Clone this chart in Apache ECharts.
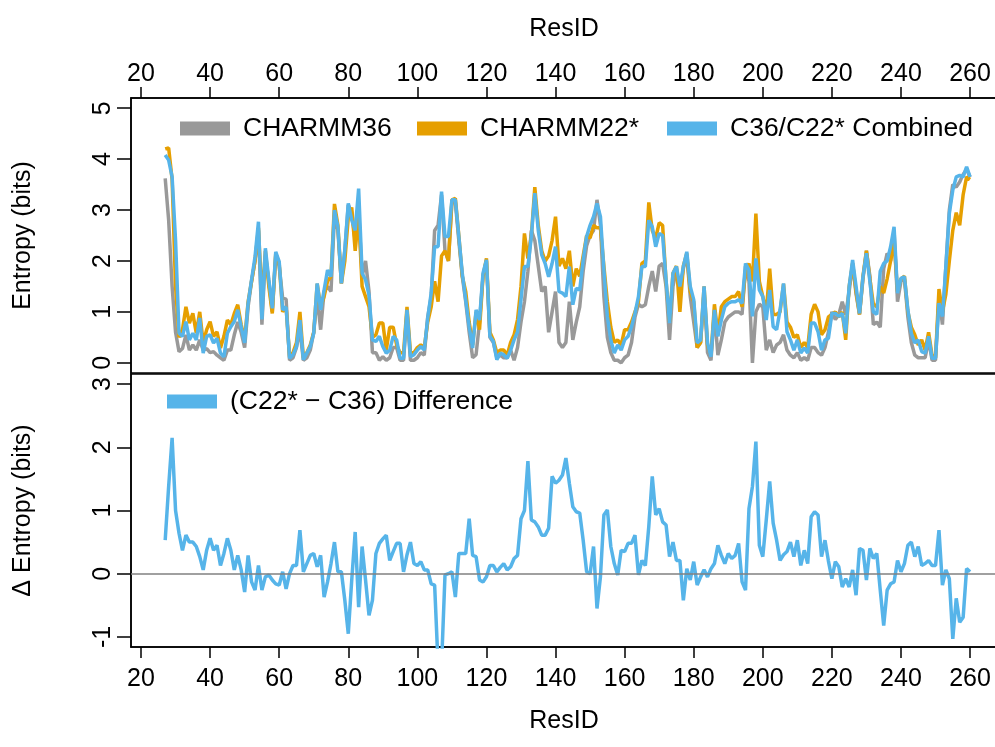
<!DOCTYPE html>
<html>
<head>
<meta charset="utf-8">
<script src="https://cdn.jsdelivr.net/npm/echarts@6/dist/echarts.min.js"></script>
<style>
html,body{margin:0;padding:0;background:#fff;}
#chart{width:995px;height:747px;}
</style>
</head>
<body>
<div id="chart"></div>
<script>
// Residue IDs (consecutive)
const resid = [];
for (let r = 27; r <= 260; r++) resid.push(r);

const xTicks = [20,40,60,80,100,120,140,160,180,200,220,240,260];
const yTopTicks = [0,1,2,3,4,5];
const yBotTicks = [-1,0,1,2,3];

// Entropy (bits) — CHARMM36
const c36 = [3.62,2.8,1.5,0.6,0.22,0.28,0.55,0.25,0.35,0.25,0.45,0.25,0.28,0.2,0.22,0.15,0.1,0.05,0.25,0.25,0.55,0.8,0.6,0.3,1.1,1.6,2.0,2.6,0.75,2.1,1.6,1.0,2.1,1.9,1.27,1.25,0.05,0.1,0.3,0.65,0.05,0.1,0.25,0.6,1.3,0.65,1.4,1.5,
1.4,2.9,2.6,1.56,2.2,3.1,2.95,2.4,3.0,1.7,2.0,1.4,0.2,0.2,0.05,0.12,0.05,0.1,0.3,0.3,0.05,0.05,1.0,0.05,0.05,0.1,0.2,0.15,0.9,1.3,2.6,2.7,3.3,2.2,2.0,3.15,3.15,2.4,1.7,1.2,0.6,0.1,0.16,0.8,1.7,2.0,0.5,0.4,0.1,0.15,0.1,0.1,0.25,0.05,0.3,0.8,1.2,1.8,2.6,2.4,1.9,1.4,1.5,0.6,1.0,1.4,0.4,0.3,0.4,1.2,0.45,0.8,1.1,1.8,2.3,2.5,2.6,3.2,2.7,1.3,0.5,0.2,0.05,
0.05,0.0,0.1,0.15,0.4,0.9,1.15,1.1,1.14,1.5,1.8,1.4,1.9,1.95,1.5,0.45,1.5,1.85,1.4,1.85,2.1,1.3,0.8,0.3,0.4,1.4,0.2,0.05,1.0,0.15,0.45,0.8,0.9,0.95,1.0,1.0,0.95,1.9,1.6,0.0,1.0,1.15,1.1,0.25,0.45,0.2,0.35,0.4,0.55,0.25,0.15,0.1,0.2,0.05,0.1,0.05,0.3,0.3,0.2,0.15,0.3,0.6,1.0,0.85,0.95,1.2,0.95,1.4,1.95,1.35,0.95,1.65,2.2,1.7,0.75,0.8,0.7,1.85,2.15,2.0,2.6,1.2,1.6,1.65,0.9,0.4,0.15,0.1,0.1,0.1,0.45,0.05,0.05,1.3,
0.75,1.9,3.0,3.5,3.45,3.55,3.7,3.8,3.65];

// Entropy (bits) — CHARMM22*
const c22 = [4.2,4.22,3.6,1.5,0.5,0.65,1.1,0.78,0.97,0.58,1.0,0.39,0.65,0.81,0.52,0.61,0.29,0.52,0.84,0.75,0.97,1.14,0.75,0.45,1.2,1.6,2.0,2.65,1.2,2.2,1.5,0.97,2.15,1.95,1.0,1.1,0.12,0.2,0.4,1.0,0.1,0.2,0.35,0.6,1.55,1.1,1.3,1.6,
1.7,3.12,2.7,1.56,2.0,2.85,3.05,2.2,2.9,1.5,1.3,1.1,0.5,0.55,0.78,0.78,0.25,0.7,0.7,0.35,0.2,0.2,1.1,0.2,0.2,0.3,0.35,0.3,0.8,1.1,1.6,1.2,2.1,2.2,2.0,3.2,3.23,2.5,1.7,1.4,0.8,0.35,1.0,0.65,1.7,2.05,0.6,0.45,0.2,0.25,0.25,0.15,0.4,0.55,0.85,1.5,2.54,2.05,2.5,3.45,2.7,2.2,2.0,2.1,2.4,2.87,1.9,2.05,1.85,2.2,1.5,1.85,1.7,2.1,2.5,2.45,2.7,2.65,2.65,1.9,1.2,0.7,0.4,
0.45,0.35,0.65,0.65,0.8,1.0,1.2,1.95,2.0,3.15,2.6,2.45,2.75,2.7,1.6,0.8,1.76,1.9,1.0,1.9,2.15,1.4,1.2,0.3,0.4,1.5,0.35,0.15,1.15,0.55,1.1,1.2,1.25,1.3,1.3,1.4,1.1,1.8,1.95,1.6,2.93,1.6,1.3,1.0,1.85,0.95,0.95,1.0,1.55,0.8,0.7,0.5,0.55,0.3,0.4,0.3,0.95,1.15,1.0,0.55,0.65,0.9,0.95,1.0,0.9,1.0,0.45,1.5,1.95,1.4,0.95,1.7,2.2,1.65,1.15,1.1,1.5,1.37,1.65,2.0,2.4,1.4,1.65,1.7,1.0,0.7,0.55,0.35,0.45,0.25,0.6,0.15,0.1,1.45,
1.0,1.35,2.0,2.6,2.95,2.7,3.3,3.65,3.6];

// Entropy (bits) — C36/C22* Combined
const comb = [4.08,3.98,3.65,2.4,0.58,0.52,0.81,0.45,0.58,0.45,0.88,0.19,0.52,0.55,0.39,0.48,0.19,0.12,0.58,0.71,0.81,1.04,0.7,0.39,1.17,1.63,2.08,2.77,0.85,2.25,1.63,1.07,2.18,1.99,1.04,1.1,0.09,0.16,0.32,0.84,0.06,0.19,0.32,0.58,1.56,1.04,1.43,1.82,
1.69,3.0,2.67,1.56,2.22,3.13,2.8,2.6,3.42,1.76,1.63,1.33,0.45,0.42,0.52,0.32,0.19,0.25,0.52,0.45,0.09,0.09,1.04,0.12,0.16,0.25,0.32,0.25,0.88,1.37,2.28,2.28,3.36,2.48,2.48,3.2,3.2,2.48,1.76,1.24,0.71,0.29,1.04,0.84,1.76,2.02,0.52,0.42,0.06,0.19,0.16,0.09,0.25,0.45,0.61,1.24,1.89,1.89,2.48,3.33,2.6,2.12,1.95,1.69,1.95,2.28,1.4,1.37,1.3,1.89,1.14,1.46,1.43,2.02,2.48,2.7,2.87,3.13,2.87,1.82,0.91,0.45,0.19,
0.35,0.25,0.45,0.52,0.71,0.97,1.3,1.89,1.89,2.8,2.67,2.28,2.54,2.5,1.63,0.78,1.76,1.89,1.5,1.89,2.18,1.5,1.24,0.39,0.45,1.5,0.39,0.12,1.04,0.52,0.84,1.1,1.17,1.2,1.2,1.24,1.17,1.95,1.82,0.91,2.05,1.43,1.3,0.84,1.43,0.71,0.65,1.04,1.56,0.61,0.45,0.25,0.45,0.19,0.29,0.19,0.78,0.78,0.61,0.25,0.45,0.48,0.97,0.97,0.91,0.97,0.58,1.5,2.02,1.5,0.97,1.69,2.15,1.6,1.0,0.95,1.8,1.95,2.0,2.28,2.67,1.37,1.66,1.69,1.04,0.58,0.39,0.45,0.22,0.19,0.52,0.09,0.09,1.17,
0.91,1.89,2.93,3.39,3.65,3.68,3.65,3.85,3.65];

// Δ Entropy (bits) — (C22* − C36) Difference
const diff = [0.53,1.38,2.15,1.0,0.64,0.37,0.61,0.5,0.5,0.43,0.27,0.06,0.37,0.56,0.37,0.45,0.13,0.32,0.56,0.37,0.06,0.29,0.06,-0.29,0.29,-0.13,-0.26,0.13,-0.26,-0.05,-0.02,-0.1,-0.16,-0.18,0.03,-0.24,0.0,0.13,0.13,0.69,0.03,0.16,0.29,0.32,0.11,0.29,-0.37,-0.13,0.16,0.5,0.03,0.03,-0.42,-0.95,
-0.1,0.66,-0.53,0.43,-0.1,-0.66,-0.42,0.32,0.48,0.55,0.61,0.21,0.35,0.48,0.48,0.03,0.3,0.5,0.16,0.13,0.19,0.06,0.06,-0.16,-0.18,-1.45,-1.45,-0.02,0.0,0.03,-0.37,0.32,0.32,0.32,0.87,0.29,0.27,-0.1,-0.13,-0.05,0.13,0.13,0.03,0.1,0.16,0.06,0.11,0.24,0.29,0.87,1.0,1.78,0.85,0.82,0.74,0.61,0.61,0.72,1.54,1.43,1.48,1.56,1.83,
1.43,1.06,0.98,0.96,0.53,0.03,0.0,0.43,-0.55,-0.05,0.93,1.01,0.43,0.16,-0.02,0.37,0.35,0.48,0.48,0.61,-0.02,0.21,0.13,0.75,1.54,0.93,1.03,0.82,0.77,0.27,0.5,0.21,0.21,-0.42,0.08,-0.1,0.19,-0.18,-0.05,0.06,-0.05,0.08,0.16,0.45,0.29,0.16,0.32,0.24,0.29,0.48,-0.13,-0.26,1.03,1.38,2.09,0.45,0.27,0.85,1.46,
0.8,0.53,0.21,0.3,0.35,0.5,0.27,0.53,0.13,0.37,0.16,0.9,0.98,0.93,0.27,0.53,0.2,-0.08,0.19,0.11,-0.21,-0.08,-0.21,0.06,-0.34,0.4,0.37,-0.1,0.4,0.24,0.32,-0.26,-0.82,-0.26,-0.16,-0.13,0.21,0.03,0.16,0.45,0.5,0.27,0.43,0.13,0.16,0.21,0.13,0.13,0.69,-0.18,0.06,-0.08,-1.03,-0.39,-0.77,-0.69,0.08,0.03];

const pairs = vals => resid.map((r, i) => [r, vals[i]]);

const FONT = '"Liberation Sans", Arial, Helvetica, sans-serif';
const FS = 25;
const LFS = 26.5;
const AX = '#000';
const LW = 3.5;

const chart = echarts.init(document.getElementById('chart'), null, {renderer: 'canvas'});

function xAxisCfg(gridIndex, position) {
  const top = position === 'top';
  return {
    type: 'value', gridIndex, position,
    min: 17.1, max: 267.8,
    name: 'ResID', nameLocation: 'middle',
    nameGap: top ? 56 : 62,
    nameTextStyle: {fontFamily: FONT, fontSize: FS, color: AX},
    axisLine: {show: true, onZero: false, lineStyle: {color: AX, width: 1.5}},
    axisTick: {show: true, inside: false, length: 11, lineStyle: {color: AX, width: 1.5}, customValues: xTicks},
    axisLabel: {show: true, margin: top ? 11 : 20, fontFamily: FONT, fontSize: FS, color: AX, customValues: xTicks, hideOverlap: false},
    splitLine: {show: false}
  };
}
function yAxisCfg(gridIndex, min, max, ticks, name) {
  return {
    type: 'value', gridIndex, min, max,
    name, nameLocation: 'middle', nameGap: 95,
    nameTextStyle: {fontFamily: FONT, fontSize: FS, color: AX},
    axisLine: {show: true, onZero: false, lineStyle: {color: AX, width: 1.5}},
    axisTick: {show: true, inside: false, length: 14, lineStyle: {color: AX, width: 1.5}, customValues: ticks},
    axisLabel: {show: true, rotate: 90, margin: 15, fontFamily: FONT, fontSize: FS, color: AX, customValues: ticks, hideOverlap: false},
    splitLine: {show: false}
  };
}

const legendBase = {
  orient: 'horizontal', padding: 0, itemWidth: 50, itemHeight: 14, icon: 'rect',
  selectedMode: false,
  textStyle: {fontFamily: FONT, fontSize: LFS, color: AX, padding: [0, 0, 0, 8]}
};

const option = {
  animation: false,
  backgroundColor: '#fff',
  grid: [
    {left: 131, top: 98, width: 866, height: 275, show: true, borderColor: AX, borderWidth: 1.5, backgroundColor: 'transparent', containLabel: false, outerBoundsMode: 'none'},
    {left: 131, top: 374, width: 866, height: 273, show: true, borderColor: AX, borderWidth: 1.5, backgroundColor: 'transparent', containLabel: false, outerBoundsMode: 'none'}
  ],
  xAxis: [xAxisCfg(0, 'top'), xAxisCfg(1, 'bottom')],
  yAxis: [
    yAxisCfg(0, -0.2, 5.2, yTopTicks, 'Entropy (bits)'),
    yAxisCfg(1, -1.16, 3.16, yBotTicks, '\u0394 Entropy (bits)')
  ],
  legend: [
    Object.assign({}, legendBase, {left: 180, top: 115, data: ['CHARMM36']}),
    Object.assign({}, legendBase, {left: 417, top: 115, data: ['CHARMM22*']}),
    Object.assign({}, legendBase, {left: 667, top: 115, data: ['C36/C22* Combined']}),
    Object.assign({}, legendBase, {left: 167, top: 388, data: ['(C22* \u2212 C36) Difference']})
  ],
  series: [
    {name: 'CHARMM36', type: 'line', xAxisIndex: 0, yAxisIndex: 0, data: pairs(c36), showSymbol: false, symbol: 'none', color: '#999999', lineStyle: {width: LW, color: '#999999'}, z: 2},
    {name: 'CHARMM22*', type: 'line', xAxisIndex: 0, yAxisIndex: 0, data: pairs(c22), showSymbol: false, symbol: 'none', color: '#E69F00', lineStyle: {width: LW, color: '#E69F00'}, z: 3},
    {name: 'C36/C22* Combined', type: 'line', xAxisIndex: 0, yAxisIndex: 0, data: pairs(comb), showSymbol: false, symbol: 'none', color: '#56B4E9', lineStyle: {width: LW, color: '#56B4E9'}, z: 4},
    {name: 'zero', type: 'line', xAxisIndex: 1, yAxisIndex: 1, data: [], z: 1,
      markLine: {silent: true, symbol: 'none', label: {show: false}, lineStyle: {color: '#808080', width: 1.5, type: 'solid'}, data: [{yAxis: 0}]}},
    {name: '(C22* \u2212 C36) Difference', type: 'line', xAxisIndex: 1, yAxisIndex: 1, data: pairs(diff), showSymbol: false, symbol: 'none', color: '#56B4E9', lineStyle: {width: LW, color: '#56B4E9'}, z: 4}
  ]
};
chart.setOption(option);
</script>
</body>
</html>
